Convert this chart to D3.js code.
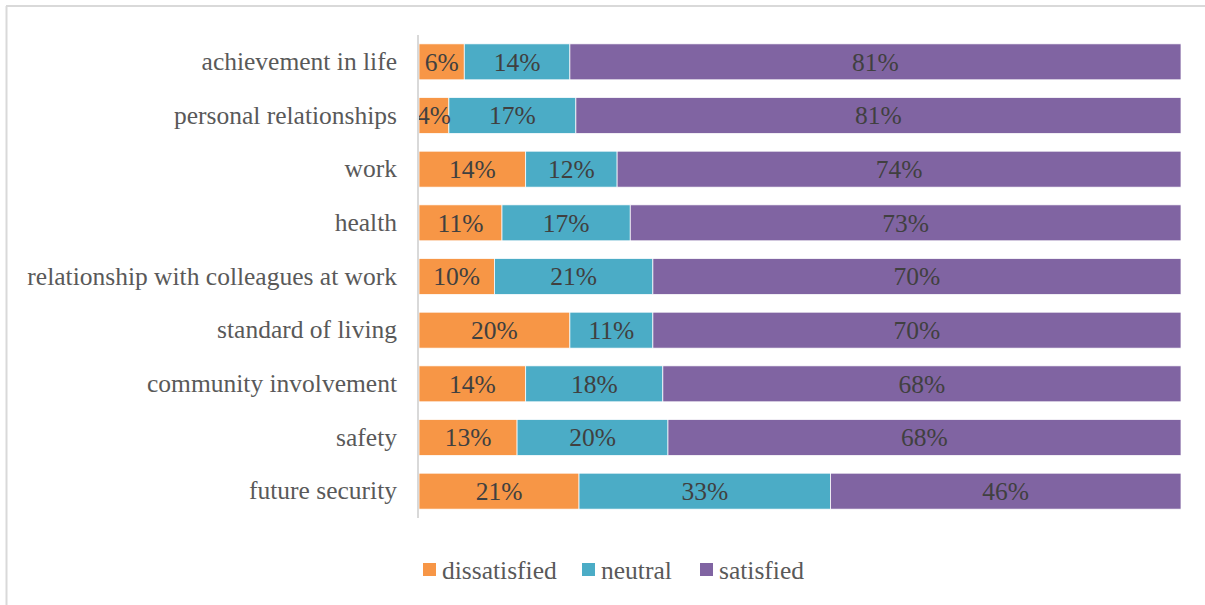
<!DOCTYPE html>
<html>
<head>
<meta charset="utf-8">
<script src="https://cdn.jsdelivr.net/npm/d3@7"></script>
<style>
  html, body { margin: 0; padding: 0; background: #fff; }
  svg { display: block; }
</style>
</head>
<body>
<svg id="chart" width="1205" height="605"></svg>
<script>
// Satisfaction survey: share of respondents per life domain
const categories = [
  "achievement in life",
  "personal relationships",
  "work",
  "health",
  "relationship with colleagues at work",
  "standard of living",
  "community involvement",
  "safety",
  "future security"
];
const dissatisfied = [6, 4, 14, 11, 10, 20, 14, 13, 21];
const neutral      = [14, 17, 12, 17, 21, 11, 18, 20, 33];
const satisfied    = [81, 81, 74, 73, 70, 70, 68, 68, 46];
const seriesNames  = ["dissatisfied", "neutral", "satisfied"];
const seriesColors = ["#F79646", "#4BACC6", "#8064A2"];

const W = 1205, H = 605;
const font = "'Liberation Serif', 'Times New Roman', serif";
const fontSize = 25.5;
const plot = { left: 419, right: 1181, top: 35, bottom: 518 };

const svg = d3.select("#chart");

// chart frame (top and left edges)
svg.append("line").attr("x1", 6).attr("x2", W).attr("y1", 6).attr("y2", 6)
  .attr("stroke", "#d9d9d9").attr("stroke-width", 2);
svg.append("line").attr("x1", 6.5).attr("x2", 6.5).attr("y1", 6).attr("y2", H)
  .attr("stroke", "#d9d9d9").attr("stroke-width", 2);

const rows = categories.map((c, i) => ({
  category: c,
  dissatisfied: dissatisfied[i],
  neutral: neutral[i],
  satisfied: satisfied[i]
}));

// 100% stacking: each row normalised by its own total
const stacked = d3.stack().keys(seriesNames).offset(d3.stackOffsetExpand)(rows);

const x = d3.scaleLinear().domain([0, 1]).range([plot.left, plot.right]);
const y = d3.scaleBand().domain(categories).range([plot.top, plot.bottom])
  .paddingInner(0.33).paddingOuter(0.165);

const layers = svg.append("g").selectAll("g").data(stacked).join("g")
  .attr("fill", (d, i) => seriesColors[i]);

layers.selectAll("rect").data(d => d).join("rect")
  .attr("x", d => x(d[0]))
  .attr("y", d => y(d.data.category))
  .attr("width", d => x(d[1]) - x(d[0]))
  .attr("height", y.bandwidth())
  .attr("stroke", "#fff").attr("stroke-width", 0.75);

// value labels centred in each segment
const labels = svg.append("g").attr("font-family", font).attr("font-size", fontSize)
  .attr("fill", "#404040").attr("text-anchor", "middle");
stacked.forEach(layer => {
  layer.forEach(d => {
    labels.append("text")
      .attr("x", (x(d[0]) + x(d[1])) / 2)
      .attr("y", y(d.data.category) + y.bandwidth() / 2)
      .attr("dy", "0.35em")
      .text(d.data[layer.key] + "%");
  });
});

// category axis
const axis = svg.append("g").attr("transform", `translate(${plot.left - 1},0)`)
  .call(d3.axisLeft(y).tickSize(0).tickPadding(21));
axis.select(".domain").attr("stroke", "#d9d9d9").attr("stroke-width", 2)
  .attr("d", `M0,${plot.top}V${plot.bottom}`);
axis.selectAll("text").attr("font-family", font).attr("font-size", fontSize)
  .attr("fill", "#595959");

// legend
const legendItems = [
  { name: seriesNames[0], color: seriesColors[0], x: 423 },
  { name: seriesNames[1], color: seriesColors[1], x: 582 },
  { name: seriesNames[2], color: seriesColors[2], x: 700 }
];
const legend = svg.append("g");
legendItems.forEach(it => {
  legend.append("rect").attr("x", it.x).attr("y", 563).attr("width", 13).attr("height", 13)
    .attr("fill", it.color);
  legend.append("text").attr("x", it.x + 19).attr("y", 570).attr("dy", "0.35em")
    .attr("font-family", font).attr("font-size", fontSize).attr("fill", "#595959")
    .text(it.name);
});
</script>
</body>
</html>
